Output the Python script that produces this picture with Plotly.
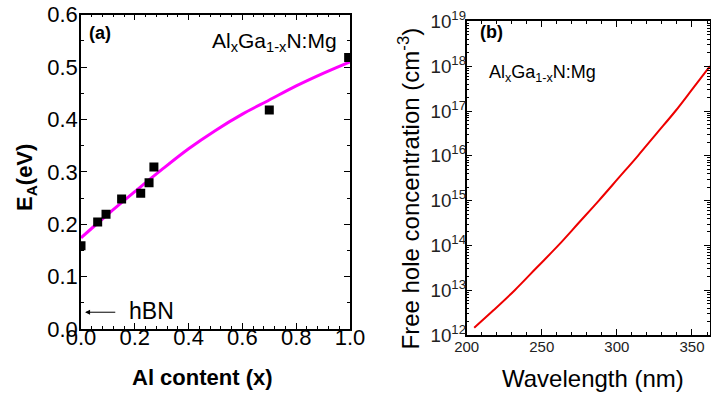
import plotly.graph_objects as go

# ---- Panel (a): activation energy vs Al content ----
al_meas = [0.0, 0.062, 0.093, 0.151, 0.222, 0.253, 0.271, 0.70, 0.995]
ea_meas = [0.159, 0.204, 0.219, 0.248, 0.259, 0.279, 0.309, 0.418, 0.518]

al_fit = [0.0, 0.1, 0.2, 0.3, 0.4, 0.5, 0.6, 0.7, 0.8, 0.9, 1.0]
ea_fit = [0.174, 0.219, 0.262, 0.304, 0.344, 0.379, 0.410, 0.437, 0.464, 0.488, 0.510]

# ---- Panel (b): free hole concentration vs wavelength ----
wl = [205, 218, 232, 246.5, 261, 274.5, 288, 301, 314, 326.5, 339, 350.5, 362]
p_conc = [1.45e12, 3.6e12, 1.0e13, 3.16e13, 1.0e14, 3.16e14, 1.0e15, 3.16e15,
          1.0e16, 3.16e16, 1.0e17, 3.16e17, 1.0e18]

W, H = 711, 395
FONT = "Liberation Sans, Arial, sans-serif"

fig = go.Figure()
fig.add_trace(go.Scatter(x=al_fit, y=ea_fit, mode="lines", line=dict(color="#ff00ff", width=3, shape="spline"),
                         xaxis="x", yaxis="y", showlegend=False))
fig.add_trace(go.Scatter(x=al_meas, y=ea_meas, mode="markers",
                         marker=dict(symbol="square", size=9, color="black"),
                         xaxis="x", yaxis="y", showlegend=False))
fig.add_trace(go.Scatter(x=wl, y=p_conc, mode="lines", line=dict(color="#ee0000", width=2, shape="spline"),
                         xaxis="x2", yaxis="y2", showlegend=False))

def px_x(p):
    return p / W

def px_y(p):
    return 1 - p / H

common = dict(showline=True, linecolor="black", linewidth=1.5, mirror="ticks",
              showgrid=False, zeroline=False, ticks="inside", tickcolor="black",
              automargin=False)

fig.update_layout(
    width=W, height=H, margin=dict(l=0, r=0, t=0, b=0),
    paper_bgcolor="white", plot_bgcolor="white",
    font=dict(family=FONT, color="black"),
    xaxis=dict(domain=[px_x(81), px_x(350)], range=[0, 1], dtick=0.2, tick0=0, tickformat=".1f",
               ticklen=6, tickwidth=1.2, tickfont=dict(size=22), ticklabelstandoff=-12,
               minor=dict(ticks="inside", dtick=0.04, ticklen=3, tickcolor="black"),
               anchor="y", **common),
    yaxis=dict(domain=[px_y(329), px_y(14.6)], range=[0, 0.6], dtick=0.1, tick0=0, tickformat=".1f",
               ticklen=6, tickwidth=1.2, tickfont=dict(size=22), ticklabelstandoff=-3,
               minor=dict(ticks="inside", dtick=0.05, ticklen=3, tickcolor="black"),
               anchor="x", **common),
    xaxis2=dict(domain=[px_x(466.7), px_x(710)], range=[200, 362], dtick=50, tick0=200,
                ticklen=6, tickwidth=1.2, tickfont=dict(size=15, color="#222"), ticklabelstandoff=-3,
                minor=dict(ticks="inside", dtick=10, ticklen=3, tickcolor="black"),
                anchor="y2", **common),
    yaxis2=dict(domain=[px_y(335), px_y(21.4)], type="log", range=[12, 19], dtick=1,
                exponentformat="power", showexponent="all",
                ticklen=6, tickwidth=1.2, tickfont=dict(size=15, color="#222"), ticklabelstandoff=-4,
                minor=dict(ticks="inside", dtick="D1", ticklen=3, tickcolor="black"),
                anchor="x2", **common),
)

ann = [
    dict(text="<b>E<sub>A</sub>(eV)</b>", x=px_x(26), y=px_y(178), textangle=-90, font=dict(size=22)),
    dict(text="<b>Al content (x)</b>", x=px_x(202), y=px_y(377), font=dict(size=22)),
    dict(text="<b>(a)</b>", x=px_x(100), y=px_y(32.7), font=dict(size=18)),
    dict(text="Al<sub>x</sub>Ga<sub>1-x</sub>N:Mg", x=px_x(274.5), y=px_y(42), font=dict(size=21)),
    dict(text="hBN", x=px_x(151), y=px_y(311), font=dict(size=23)),
    dict(text="Free hole concentration (cm<sup>-3</sup>)", x=px_x(408), y=px_y(188.5), textangle=-90,
         font=dict(size=24)),
    dict(text="Wavelength (nm)", x=px_x(592.5), y=px_y(378), font=dict(size=24)),
    dict(text="<b>(b)</b>", x=px_x(491.5), y=px_y(32), font=dict(size=18)),
    dict(text="Al<sub>x</sub>Ga<sub>1-x</sub>N:Mg", x=px_x(542.5), y=px_y(73), font=dict(size=18)),
]
for a in ann:
    a.update(xref="paper", yref="paper", showarrow=False, xanchor="center", yanchor="middle")
    fig.add_annotation(**a)

# hBN arrow
fig.add_annotation(x=0.015, y=0.032, ax=0.133, ay=0.032, xref="x", yref="y", axref="x", ayref="y",
                   text="", showarrow=True, arrowhead=2, arrowsize=1, arrowwidth=1, arrowcolor="black")

fig.write_html("out.html")
